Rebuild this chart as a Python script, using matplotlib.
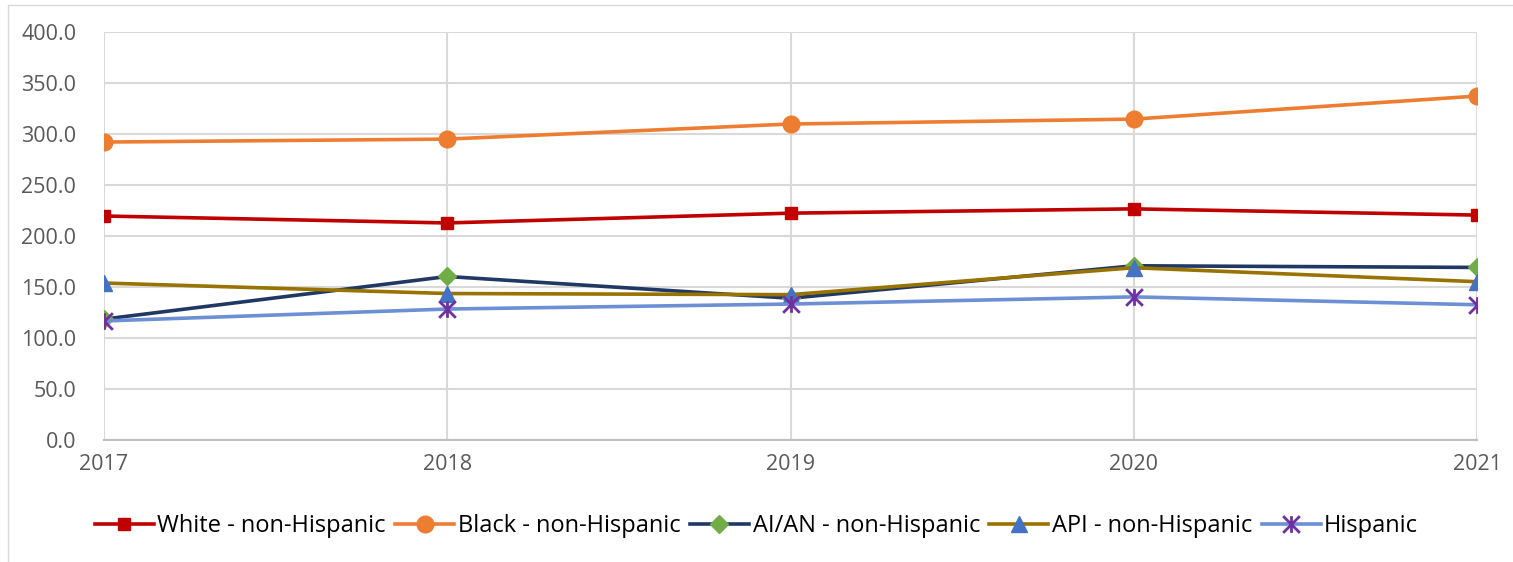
import matplotlib.pyplot as plt
from matplotlib.patches import Rectangle
from matplotlib.path import Path

years = [2017, 2018, 2019, 2020, 2021]
white = [219.6, 212.8, 222.4, 226.6, 220.5]
black = [292.1, 295.0, 309.8, 314.6, 337.2]
aian = [118.5, 160.3, 139.0, 170.8, 169.2]
api = [153.9, 143.6, 142.5, 168.9, 155.2]
hispanic = [116.7, 128.4, 133.3, 140.3, 132.6]

plt.rcParams['font.family'] = ['Open Sans', 'DejaVu Sans']

# excel style star marker: an x with a vertical bar
star = Path([(-1, -1), (1, 1), (-1, 1), (1, -1), (0, -1), (0, 1)],
            [Path.MOVETO, Path.LINETO, Path.MOVETO, Path.LINETO, Path.MOVETO, Path.LINETO])

fig = plt.figure(figsize=(15.13, 5.62), dpi=100)
ax = fig.add_axes([104 / 1513, 1 - 440 / 562, (1477 - 104) / 1513, (440 - 32) / 562])

ax.plot(years, white, color='#c00000', lw=2.6, marker='s', ms=9, label='White - non-Hispanic')
ax.plot(years, black, color='#ed7d31', lw=2.6, marker='o', ms=12, label='Black - non-Hispanic')
ax.plot(years, aian, color='#203864', lw=2.6, marker='D', ms=9, mfc='#70ad47', mec='#70ad47',
        label='AI/AN - non-Hispanic')
ax.plot(years, api, color='#997300', lw=2.6, marker='^', ms=12, mfc='#4472c4', mec='#4472c4',
        label='API - non-Hispanic')
ax.plot(years, hispanic, color='#6d8fd4', lw=2.6, marker=star, ms=12, mew=2, mfc='#7030a0',
        mec='#7030a0', label='Hispanic')

ax.set_xlim(2017, 2021)
ax.set_ylim(0, 400)
ax.set_yticks(range(0, 401, 50))
ax.set_yticklabels([f'{v:.1f}' for v in range(0, 401, 50)])
ax.set_xticks(years)
ax.grid(True, color='#d9d9d9', lw=1.5)
ax.set_axisbelow(True)
for s in ['top', 'right', 'left']:
    ax.spines[s].set_visible(False)
ax.spines['bottom'].set_color('#bfbfbf')
ax.spines['bottom'].set_linewidth(1.5)
ax.tick_params(length=0, labelsize=15.5, colors='#595959', pad=10)
ax.tick_params(axis='y', pad=20)

handles, labels = ax.get_legend_handles_labels()
fig.legend(handles, labels, loc='center', bbox_to_anchor=(0.5, 1 - 526 / 562), ncol=5,
           frameon=False, fontsize=17, handlelength=2.5, handletextpad=0.15, columnspacing=0.4)

fig.add_artist(Rectangle((8 / 1513, -0.01), 1.1, 1 - 5 / 562 + 0.01, transform=fig.transFigure,
                         fill=False, ec='#d9d9d9', lw=1))

fig.savefig('out.png', dpi=100)
